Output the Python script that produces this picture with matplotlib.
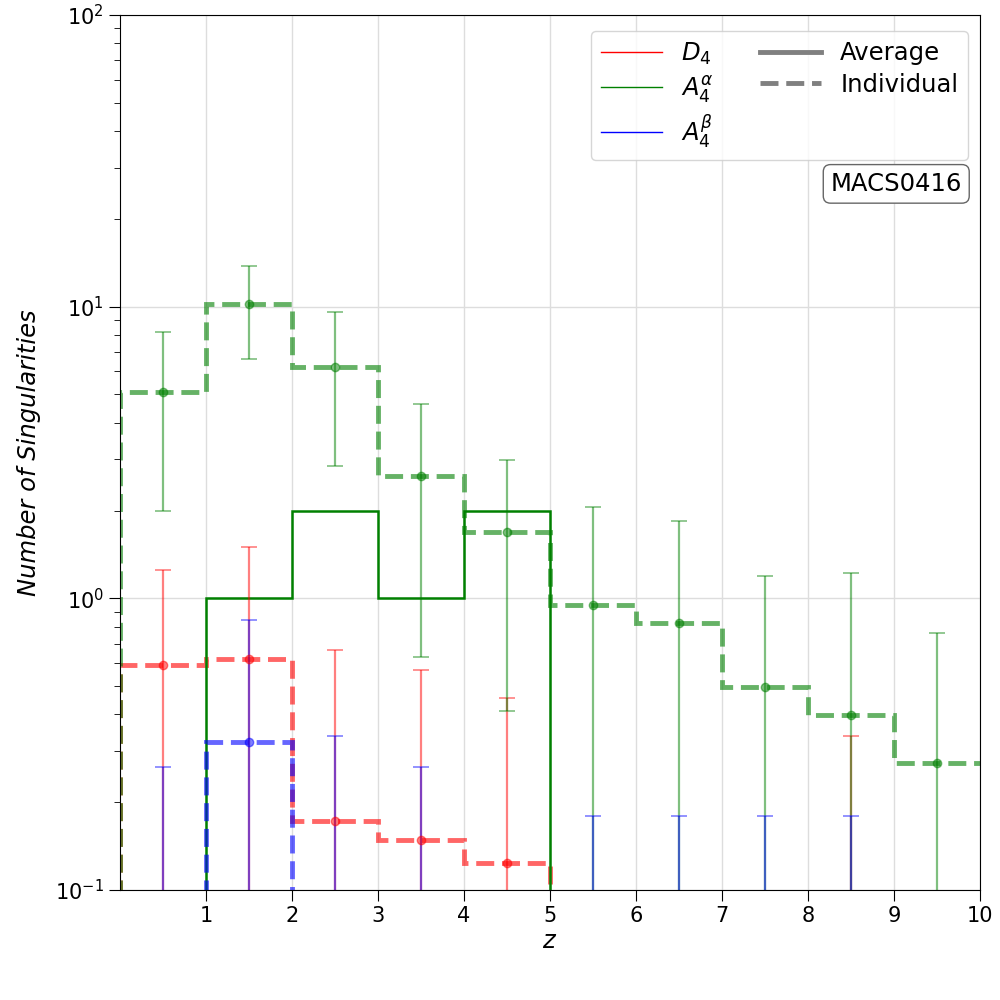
import numpy as np
import matplotlib
matplotlib.use("Agg")
import matplotlib.pyplot as plt
from matplotlib.lines import Line2D

# redshift bins
edges = np.arange(0, 11)
centers = edges[:-1] + 0.5

# per-bin counts
d4_individual = [0.592, 0.619, 0.173, 0.148, 0.124, 0, 0, 0, 0, 0]
d4_err = [0.66, 0.88, 0.49, 0.42, 0.33, 0, 0, 0, 0.336, 0]
d4_average = [0, 0, 0, 0, 0, 0, 0, 0, 0, 0]

a4a_individual = [5.1, 10.2, 6.2, 2.63, 1.69, 0.95, 0.82, 0.495, 0.397, 0.272]
a4a_err = [3.1, 3.6, 3.35, 2.0, 1.28, 1.1, 1.02, 0.70, 0.82, 0.49]
a4a_average = [0, 1, 2, 1, 2, 0, 0, 0, 0, 0]

a4b_individual = [0, 0.322, 0, 0, 0, 0, 0, 0, 0, 0]
a4b_err = [0.265, 0.52, 0.336, 0.265, 0, 0.179, 0.179, 0.179, 0.179, 0]
a4b_average = [0, 0, 0, 0, 0, 0, 0, 0, 0, 0]

series = [
    ("$D_4$", "red", d4_individual, d4_err, d4_average),
    (r"$A_4^{\alpha}$", "green", a4a_individual, a4a_err, a4a_average),
    (r"$A_4^{\beta}$", "blue", a4b_individual, a4b_err, a4b_average),
]


def steps(ax, vals, **kw):
    # rise from zero at the left edge, run off the right edge without dropping
    v = np.concatenate([[0], vals])
    e = np.concatenate([[edges[0] - 1], edges])
    ax.stairs(v, e, baseline=None, **kw)


fig = plt.figure(figsize=(10, 10), dpi=100)
ax = fig.add_axes([0.12, 0.11, 0.86, 0.875])
ax.set_yscale("log")

for name, col, ind, err, avg in series:
    steps(ax, ind, color=col, lw=3.5, ls="--", alpha=0.6)
    if any(v > 0 for v in avg):
        steps(ax, avg, color=col, lw=1.8)
    ax.errorbar(centers, ind, yerr=err, fmt="o", color=col, alpha=0.5,
                markersize=6, elinewidth=1.6, capsize=6, capthick=1.2)

ax.set_xlim(0, 10)
ax.set_ylim(0.1, 100)
ax.set_xticks(range(1, 11))
ax.tick_params(which="major", direction="out", length=8, labelsize=15)
ax.tick_params(which="minor", direction="out", length=4)
ax.grid(True, which="major", color="#dddddd", lw=1)
ax.set_axisbelow(True)

ax.set_xlabel("$z$", fontsize=17.5, labelpad=2)
ax.set_ylabel("Number of Singularities", fontsize=17.5, fontstyle="italic",
              labelpad=10)

handles = [Line2D([], [], color=c, lw=1) for _, c, *_ in series]
labels = [s[0] for s in series]
handles += [Line2D([], [], color="gray", lw=3.5),
            Line2D([], [], color="gray", lw=3.5, ls="--")]
labels += ["Average", "Individual"]
ax.legend(handles, labels, loc="upper right", bbox_to_anchor=(0.986, 0.982),
          borderaxespad=0, ncol=2, fontsize=17.5, handlelength=2.5,
          columnspacing=1.9, labelspacing=0.3)

ax.text(0.979, 0.807, "MACS0416", transform=ax.transAxes, fontsize=17.5,
        ha="right", va="center",
        bbox=dict(boxstyle="round,pad=0.3", fc="white", ec="0.4"))

fig.savefig("out.png", dpi=100)
